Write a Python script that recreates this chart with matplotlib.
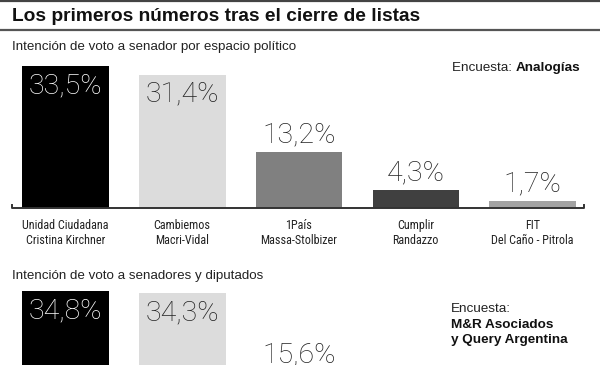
import numpy as np
import matplotlib.pyplot as plt
from matplotlib import font_manager as fm
from matplotlib.lines import Line2D

# --- data ---
partidos = ["Unidad Ciudadana\nCristina Kirchner", "Cambiemos\nMacri-Vidal",
            "1País\nMassa-Stolbizer", "Cumplir\nRandazzo", "FIT\nDel Caño - Pitrola"]
senador = [33.5, 31.4, 13.2, 4.3, 1.7]
senadores_diputados = [34.8, 34.3, 15.6]
colores = ["#000000", "#dcdcdc", "#808080", "#404040", "#a3a3a3"]

titulo = "Los primeros números tras el cierre de listas"
sub1 = "Intención de voto a senador por espacio político"
sub2 = "Intención de voto a senadores y diputados"

# --- layout (pixels) ---
W, H = 600, 365
PX = 4.25            # px per percentage point
X0, STEP = 65.5, 116.75
TXT = "#222222"

# condensed font for the category labels
instaladas = {f.name for f in fm.fontManager.ttflist}
NARROW = next((n for n in ["Liberation Sans Narrow", "Roboto Condensed", "Archivo Narrow",
                           "Barlow Semi Condensed"] if n in instaladas), "DejaVu Sans")

fig = plt.figure(figsize=(6, 3.65), dpi=100)
fig.patch.set_facecolor("white")


def fy(y):
    return 1 - y / H


def px_axes(top, baseline):
    h = baseline - top
    ax = fig.add_axes([0, (H - baseline) / H, 1, h / H])
    ax.set_xlim(-X0 / STEP, (W - X0) / STEP)
    ax.set_ylim(0, h / PX)
    ax.set_axis_off()
    return ax


def pct(v):
    return f"{v:.1f}%".replace(".", ",")


def bars(ax, valores):
    x = np.arange(len(valores))
    ax.bar(x, valores, width=86.5 / STEP, color=colores[:len(valores)])
    for i, v in enumerate(valores):
        if v > 20:
            c = "white" if i == 0 else TXT
            ax.annotate(pct(v), (i, v), xytext=(0, -6 * 0.72), textcoords="offset points",
                        ha="center", va="top", fontsize=20.5, family="Roboto",
                        weight="light", color=c)
        else:
            ax.annotate(pct(v), (i, v), xytext=(0, 4 * 0.72), textcoords="offset points",
                        ha="center", va="bottom", fontsize=20.5, family="Roboto",
                        weight="light", color=TXT, annotation_clip=False)


# header
fig.add_artist(Line2D([0, 1], [fy(0.8), fy(0.8)], color="#444444", lw=1.6))
fig.add_artist(Line2D([0, 1], [fy(29.5), fy(29.5)], color="#555555", lw=1.6))
fig.text(12 / W, fy(21), titulo, fontsize=13.8, weight="bold", family="Liberation Sans",
         color="#111111", va="baseline")

# chart 1
fig.text(12 / W, fy(50.3), sub1, fontsize=9.6, family="Liberation Sans", color=TXT, va="baseline")
ax1 = px_axes(50, 208.3)
bars(ax1, senador)
xa = (12 - X0) / STEP
xb = (584 - X0) / STEP
ax1.plot([xa, xa, xb, xb], [3 / PX, 0, 0, 3 / PX], color="#333333", lw=1.4, clip_on=False)
for i, lab in enumerate(partidos):
    ax1.annotate(lab, (i, 0), xytext=(0, -11 * 0.72), textcoords="offset points",
                 ha="center", va="top", fontsize=8.7, family=NARROW,
                 color=TXT, linespacing=1.15, annotation_clip=False)

enc_b = fig.text(580 / W, fy(71), "Analogías", fontsize=9.7, weight="bold",
                 family="Liberation Sans", color="#111111", ha="right", va="baseline")
r = fig.canvas.get_renderer()
bb = enc_b.get_window_extent(r)
fig.text(bb.x0 / W, fy(71), "Encuesta: ", fontsize=9.7, family="Liberation Sans",
         color=TXT, ha="right", va="baseline")

# chart 2 (cut off by the bottom edge)
fig.text(12 / W, fy(279.5), sub2, fontsize=9.6, family="Liberation Sans", color=TXT, va="baseline")
ax2 = px_axes(280, 439)
bars(ax2, senadores_diputados)
fig.text(451 / W, fy(312), "Encuesta:", fontsize=9.7, family="Liberation Sans",
         color=TXT, va="baseline")
fig.text(451 / W, fy(327.5), "M&R Asociados", fontsize=9.7, weight="bold",
         family="Liberation Sans", color="#111111", va="baseline")
fig.text(451 / W, fy(343), "y Query Argentina", fontsize=9.7, weight="bold",
         family="Liberation Sans", color="#111111", va="baseline")

fig.savefig("out.png", dpi=100, facecolor="white")
